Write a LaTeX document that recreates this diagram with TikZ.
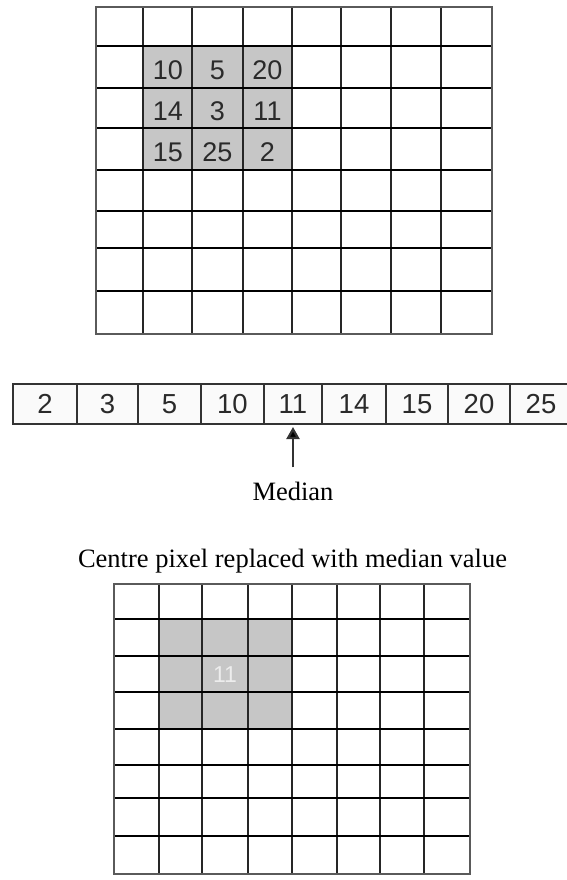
\documentclass[tikz,border=0pt]{standalone}
\usepackage{fontspec}
\setmainfont{Liberation Serif}
\newfontfamily\digitfont{Liberation Sans}
\usetikzlibrary{arrows.meta}
\definecolor{cellgray}{HTML}{C6C6C6}
\definecolor{digitgray}{HTML}{2A2A2A}
\definecolor{linegray}{HTML}{333333}
\definecolor{bordergray}{HTML}{5A5A5A}
\definecolor{stripbg}{HTML}{FAFAFA}
\begin{document}
\begin{tikzpicture}[x=1pt,y=-1pt,
  hline/.style={draw=black,line width=1.8pt},
  vline/.style={draw=black!85,line width=2pt},
  gridborder/.style={draw=bordergray,line width=2.6pt},
  num/.style={font=\digitfont\fontsize{27}{30}\selectfont,text=digitgray,inner sep=0pt},
  stripcell/.style={draw=linegray,line width=1.8pt,fill=stripbg,minimum height=40pt,inner sep=0pt,outer sep=0pt,
    font=\digitfont\fontsize{27.5}{30}\selectfont,text=digitgray},
  caption/.style={font=\fontsize{26.5}{30}\selectfont,text=black,inner sep=0pt},
  medarrow/.style={draw=linegray,line width=2.2pt,-{Triangle[width=13pt,length=12pt,fill=black]}}
]
\useasboundingbox (0,0) rectangle (567,880);

% ---------- top grid ----------
\fill[cellgray] (143,46) rectangle (292,170);
\foreach \x in {143,192,243,292,341,391,441}
  \draw[vline] (\x,7) -- (\x,334);
\foreach \y in {46,88,128,170,211,248,291}
  \draw[hline] (96,\y) -- (492,\y);
\draw[gridborder] (96,7) rectangle (492,334);

\node[num] (t11) at (168,70) {10};
\node[num] (t12) at (217.5,70) {5};
\node[num] (t13) at (267.5,70) {20};
\node[num] (t21) at (168,111) {14};
\node[num] (t22) at (217.5,111) {3};
\node[num] (t23) at (267.5,111) {11};
\node[num] (t31) at (168,152) {15};
\node[num] (t32) at (217.5,152) {25};
\node[num] (t33) at (267.5,152) {2};

% ---------- sorted strip ----------
\node[stripcell,minimum width=64pt] (s1) at (45,404) {2};
\node[stripcell,minimum width=61pt] (s2) at (107.5,404) {3};
\node[stripcell,minimum width=63pt] (s3) at (169.5,404) {5};
\node[stripcell,minimum width=63pt] (s4) at (232.5,404) {10};
\node[stripcell,minimum width=58pt] (s5) at (293,404) {11};
\node[stripcell,minimum width=64pt] (s6) at (354,404) {14};
\node[stripcell,minimum width=62pt] (s7) at (417,404) {15};
\node[stripcell,minimum width=62pt] (s8) at (479,404) {20};
\node[stripcell,minimum width=62pt] (s9) at (541,404) {25};

% ---------- median label and arrow ----------
\node[caption] (median) at (293,491) {Median};
\draw[medarrow,shorten <=14pt,shorten >=3pt] (median.north) -- (s5.south);

% ---------- caption ----------
\node[caption] (title) at (292.5,561) {Centre pixel replaced with median value};

% ---------- bottom grid ----------
\fill[cellgray] (159,619) rectangle (292,729);
\foreach \x in {159,202,248,292,337,380,424}
  \draw[vline] (\x,584) -- (\x,874);
\foreach \y in {619,656,692,729,765,798,836}
  \draw[hline] (114,\y) -- (470,\y);
\draw[gridborder] (114,584) rectangle (470,874);

\node[num,font=\digitfont\fontsize{23}{26}\selectfont,text=white!93!black] (b22) at (225,675) {11};
\end{tikzpicture}
\end{document}
